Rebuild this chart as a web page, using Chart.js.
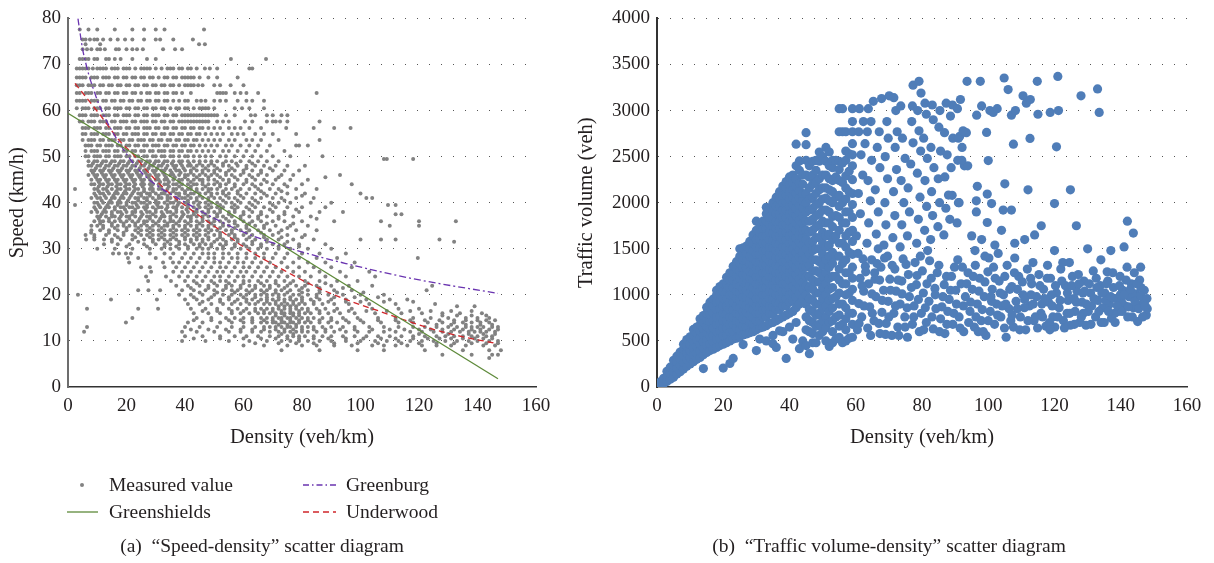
<!DOCTYPE html>
<html>
<head>
<meta charset="utf-8">
<script src="https://cdn.jsdelivr.net/npm/chart.js@4.4.1/dist/chart.umd.min.js"></script>
<style>
  body { margin:0; background:#fff; width:1214px; height:563px; overflow:hidden; position:relative;
         font-family:'Liberation Serif','Times New Roman',serif; color:#231f20; }
  canvas { position:absolute; top:0; }
  #speedChart { left:0; }
  #flowChart { left:570px; }
  .txt { position:absolute; font-size:19.5px; line-height:22px; white-space:nowrap; }
  .cap { transform:translateX(-50%); }
  svg { position:absolute; left:0; top:0; }
</style>
</head>
<body>
<canvas id="speedChart" width="560" height="460"></canvas>
<canvas id="flowChart" width="644" height="460"></canvas>

<svg width="1214" height="563">
  <circle id="kDot" cx="82" cy="485" r="2"></circle>
  <line id="kGs" x1="67" y1="512" x2="98" y2="512" stroke-width="1.3"></line>
  <line id="kGb" x1="303" y1="485" x2="336" y2="485" stroke-width="1.3" stroke-dasharray="6,3,1.5,3"></line>
  <line id="kUw" x1="303" y1="512" x2="336" y2="512" stroke-width="1.3" stroke-dasharray="6,4"></line>
</svg>
<div class="txt" style="left:109px;top:474px">Measured value</div>
<div class="txt" style="left:109px;top:501px">Greenshields</div>
<div class="txt" style="left:346px;top:474px">Greenburg</div>
<div class="txt" style="left:346px;top:501px">Underwood</div>
<div class="txt cap" style="left:262px;top:535px">(a)&nbsp; “Speed-density” scatter diagram</div>
<div class="txt cap" style="left:889px;top:535px">(b)&nbsp; “Traffic volume-density” scatter diagram</div>

<script>
// fitted model curves
const greenshieldsK = [0, 147];
const greenshieldsV = [59.4, 1.8];
const greenburgK = [3.4, 4.2, 5, 6, 7, 8.5, 10, 12, 14.4, 19, 24, 30, 37, 47, 60, 78, 95, 118, 147];
const greenburgV = [80, 76.5, 73.3, 70.5, 68, 65, 62.3, 59.3, 56.3, 51.5, 47.3, 43.9, 41.2, 37.6, 33.6, 29.7, 26.8, 23.5, 20.3];
const underwoodK = [2.4, 10.9, 17.8, 22.3, 27, 35.9, 42, 50.9, 62.2, 72.5, 83.8, 95, 106.7, 118, 129.6, 146.7];
const underwoodV = [65.9, 59.1, 53.3, 50.5, 46.9, 41.4, 38.5, 34.5, 29.5, 25.8, 22, 19, 16.4, 13.9, 11.7, 9.4];

// measured speed-density points: [speed, [densities at that speed]]
const speedRows = [
  [77.6,[4,7,10,16,22,26,30,33,46.5]],
  [75.4,[5,6,7.5,9,10,12,14.5,17,19.5,22,26,30,31.5,36,42.7]],
  [74.4,[6,11,44.8,46.8]],
  [73.3,[5,6.5,8,10,11,12.6,16.4,17.4,20,22,23.6,25.6,32.5,36.6,39]],
  [71.2,[4,5,6,7,9,10,13,14,16,18,22,27,30,55.7,67.7]],
  [69.1,[3,4,5,6,7,8.5,10,11,12,13,15,16,17,19,20,21,23,25,26,27,28,30,32,34,35,36,38,39,41,42,44,46.8,48.5,51,62,63]],
  [67.2,[3,4,5,6,8,9,10,12,13,14,16,17,19,20,22,23,25,26,28,29,31,33,34,36,37,39,40,41,42,43,45,48,51,58]],
  [65.5,[3,4,5,7,8,9,11,12,14,15,17,18,20,21,23,24,26,27,29,30,32,33,35,36,38,40,41,42,43,44.5,46,50,52,55.6,60]],
  [63.8,[3,4,6,7,8,10,11,13,14,16,17,19,20,22,23,25,27,28,30,31,33,34,36,37,39,42,51,52,53,54,57,59,61,65,85]],
  [62.1,[3,4,5,6,8,9,10,12,13,15,16,18,19,21,22,24,25,27,28,30,31,33,34,36,38,40,41,44,45.5,47,50,52,54,58,61,63,67]],
  [60.5,[3,5,6,7,9,10,11,13,14,16,17,18,20,21,23,24,26,27,29,30,32,33,35,37,38,40,41,43,45,46,47,48,50,57,59.5,62,67]],
  [59,[4,5,6,8,9,10,12,13,14,16,17,19,20,21,23,24,26,27,29,30,31,33,34,36,37,39,40,41,42,43,44,45,46,47,48,49,50,51,54,57,62.5,64,68,70,73,75]],
  [57.6,[4,5,7,8,9,11,12,13,15,16,18,19,20,22,23,25,26,27,29,30,32,33,35,36,38,39,40,41,42,43,44,45,46,47,48,51,53,55,60.5,63,68,70,71,72.5,75,86]],
  [56.2,[5,6,7,9,10,11,13,14,16,17,18,20,21,23,24,26,27,28,30,31,33,34,36,37,39,40,42,43,45,46,48,50,52,55,57,59,62,66,74.6,84,91,96.6]],
  [54.9,[5,6,8,9,10,12,13,14,16,17,19,20,22,23,24,26,27,29,30,32,33,35,36,38,39,41,42,44,45,47,49,51,53,56,58,60,64,67,70,78]],
  [53.6,[5,7,8,9,11,12,14,15,16,18,19,21,22,24,25,26,28,29,31,32,34,35,37,38,40,41,43,44,46,48,50,52,55,57,61,63,66,72,86]],
  [52.4,[6,7,8,10,11,13,14,15,17,18,20,21,23,24,26,27,29,30,31,33,34,36,37,39,40,42,43,45,47,49,51,54,56,59,62,65,69,78,79,82]],
  [51.2,[6,8,9,10,12,13,14,16,17,19,20,22,23,25,26,28,29,31,32,33,35,36,38,39,41,42,44,46,48,50,53,55,58,61,64,68,74]],
  [50.1,[6,7,9,10,11,13,14,16,17,18,20,21,23,24,26,27,29,30,32,33,35,36,38,40,41,43,45,47,49,52,54,57,60,63,66,70,76,87]],
  [49.5,[108,109,118]],
  [49,[7,9,10,12,13,15,16,18,19,21,22,24,25,27,28,30,31,33,34,36,38,39,41,43,45,47,49,51,54,56,59,62,65,68,72]],
  [48.5,[8.5,11.5,14.5,17.5,20.5,23.5,26.5,29.5,32.5,35.5,38.5,41.5,45,49,53,57.5,63]],
  [48,[7,8,10,11,13,14,16,17,19,20,22,23,25,26,28,29,31,32,34,36,37,39,41,42,44,46,48,50,53,55,58,61,64,67,71,75,81]],
  [47.5,[9.5,12.5,15.5,18.5,21.5,24.5,27.5,30.5,33.5,36.5,39.5,43,47,51,56,61,69]],
  [47,[8,9,11,12,14,15,17,18,20,21,23,24,26,27,29,30,32,33,35,37,38,40,42,44,46,48,50,52,55,57,60,63,66,70,74,79]],
  [46.5,[8.5,11.5,14.5,17.5,20.5,23.5,26.5,29.5,32.5,35.5,38.5,42,46,50,54,60,66]],
  [46,[7,9,10,12,13,15,16,18,19,21,22,24,25,27,28,30,31,33,35,36,38,40,41,43,45,47,49,51,54,56,59,62,65,68,73,77,93]],
  [45.5,[9.5,12.5,15.5,18.5,21.5,24.5,27.5,30.5,33.5,36.5,40,44,48,52,57,63,72,88]],
  [45,[8,10,11,13,14,16,17,19,20,22,23,25,26,28,30,31,33,34,36,38,39,41,43,45,46,48,50,53,55,58,61,64,67,71,76,82]],
  [44.5,[10.5,13.5,16.5,19.5,22.5,25.5,28.5,31.5,34.5,38,42,46,51,55,61,68]],
  [44,[8,9,11,12,14,15,17,18,20,21,23,25,26,28,29,31,33,34,36,37,39,41,43,44,46,48,50,52,54,57,60,63,66,70,74,80,97]],
  [43.5,[10.5,13.5,16.5,19.5,22.5,25.5,28.5,31.5,34.5,38,42,47,52,57,64,75]],
  [43,[2.4,9,10,12,13,15,17,18,20,21,23,24,26,28,29,31,32,34,36,37,39,41,42,44,46,48,49,51,54,56,59,62,65,69,72,78,85]],
  [42.5,[10.5,13.5,16.5,19.5,22.5,26,29,33,36,40,44,48,53,58,66,73]],
  [42,[9,11,12,14,16,17,19,20,22,24,25,27,28,30,32,33,35,37,38,40,42,43,45,47,49,51,53,55,58,61,64,67,71,75,81,100]],
  [41.5,[9.5,12.5,15.5,18.5,21.5,25,28,31,34,38,41,45,49,54,59,68,80]],
  [41,[8,10,11,13,15,16,18,19,21,23,24,26,27,29,31,32,34,35,37,39,40,42,44,46,48,50,52,55,57,60,63,66,70,73,78,84,102,104]],
  [40.5,[11.5,14.5,17.5,20.5,24,27,30,34,37,41,44,48,53,58,64,74]],
  [40,[9,10,12,14,15,17,18,20,22,23,25,26,28,30,31,33,35,36,38,40,41,43,45,47,49,51,54,56,59,62,65,69,72,76,83,90]],
  [39.5,[2.4,10.5,13.5,17,20,23.5,27,30.5,34,37.5,41,44.5,48,52,57,63,70,109.4,112]],
  [39,[9,11,13,14,16,18,19,21,22,24,26,27,29,31,32,34,36,37,39,41,43,45,47,49,51,53,56,58,61,64,67,71,75,80,88]],
  [38.5,[9.5,12.5,16,19.5,23,26.5,30,33.5,37,40.5,44,48,52,57,62,69,78]],
  [38,[8,10,12,13,15,17,18,20,22,23,25,27,28,30,32,34,35,37,39,41,43,44,46,48,50,52,55,57,60,63,66,70,74,79,86,94]],
  [37.5,[11.5,15,18.5,22,25.5,29,32.5,36,39.5,43,47,51,55,60,66,74,112,114]],
  [37,[10,11,13,15,16,18,20,21,23,25,27,28,30,32,33,35,37,39,41,42,44,46,48,51,53,56,59,62,65,68,72,77,83]],
  [36.5,[10.5,14,17.5,21,24.5,28,31.5,35,38.5,42,46,50,54,59,65,72,85]],
  [36,[9,11,12,14,16,18,20,22,24,26,27,29,31,33,35,36,38,40,42,44,46,48,50,52,55,57,60,63,66,70,74,80,91,107,120,132.6]],
  [35.5,[11,15,19,23,26,30,34,37,41,45,49,53,57,62,68,77]],
  [35,[8,10,12,15,17,19,21,23,25,27,29,31,33,34,36,38,40,42,44,46,48,50,53,55,58,61,64,67,71,76,82,110,120]],
  [34.5,[12,16,20,24,28,32,36,40,44,48,52,57,61,67,75]],
  [34,[8,11,14,17,20,23,25,27,29,31,33,35,37,39,41,43,45,47,49,51,54,56,59,62,65,69,73,78,85]],
  [33.5,[7.9,14,19,24,28,32,36,40,44,48,52,56,61,66,72]],
  [33,[6,9,13,16,19,22,25,27,29,31,33,35,37,39,41,43,45,47,50,52,55,57,60,63,67,70,75,81]],
  [32.5,[9,17,23,28,32,36,40,44,48,52,57,62,67,73,80]],
  [32,[6.2,9,12.3,15,18,22,26,29,31,33,35,37,40,42,44,46,48,51,53,56,58,61,64,68,72,77,84,100,107,112,127]],
  [31.5,[15,24,29,34,38,42,46,50,54,58,63,68,75,132]],
  [31,[12.3,17,21,26,30,33,35,38,40,43,45,47,49,52,54,57,60,63,66,70,74,79,88]],
  [30.5,[20,27,33,37,41,45,49,53,57,61,66,72,79]],
  [30,[10,16,22,28,32,35,38,41,44,46,48,51,53,56,59,62,65,68,72,76,82,90]],
  [29,[15.4,17.4,19.8,21.5,28,33,36,40,43,46,48,50,53,55,58,61,64,67,71,75,80,86,95]],
  [28,[20.5,24,30,35,39,42,45,48,50,53,56,58,61,64,67,70,74,79,85,92,119.6]],
  [27,[20.9,32.5,35.9,38,41,44,47,50,52,55,58,60,63,66,69,73,77,82,88,98]],
  [26,[25,28,33,37,40,43,46,49,52,54,57,60,62,65,68,71,75,79,84,90,97]],
  [25,[28.4,36,39,42,45,48,51,53,56,59,61,64,67,70,73,77,81,86,93,103]],
  [24,[26.7,33.5,38,41,44,47,50,52,55,58,60,63,66,69,72,75,79,83,88,95,105]],
  [23,[27.4,35.2,40,43,46,49,52,54,57,60,62,65,68,71,74,77,81,86,92,99]],
  [22.5,[44,50,55,60,66,71,76,82,88]],
  [22,[37,41,45,48,51,54,56,59,62,64,67,69,72,75,78,81,85,90,96,104,124.5]],
  [21.5,[42,48,54,59,64,69,74,80,86,94]],
  [21,[24,27.5,31.5,39,43,47,50,53,56,58,61,63,66,68,71,73,76,79,82,86,91,97,122.6]],
  [20.5,[45,51,57,62,67,71,75,80,86,92,101]],
  [20,[3.4,38,42,46,50,53,56,59,61,64,66,68,70,72,74,77,79,82,85,89,94,100,108]],
  [19.5,[43,49,55,60,64,68,72,76,80,85,91,98,106]],
  [19,[14.7,30.4,40,44,48,52,55,58,61,63,66,68,70,72,74,76,78,80,83,86,90,95,102,110,116]],
  [18.5,[46,52,57,61,65,68,71,74,77,80,84,89,95,100,108,118]],
  [18,[41,45,49,53,56,59,62,64,67,69,71,73,75,77,79,81,84,87,91,96,103,112,125.5]],
  [17.5,[72,74,76,78,133,139]],
  [17,[6.5,24,30.8,42,47,51,55,58,61,64,66,68,70,72,74,76,78,80,82,85,88,92,97,104,113,120]],
  [16.5,[46,51,56,60,64,67,70,73,76,79,82,86,91,96,102,109,117,124,131,138]],
  [16,[43,48,52,56,59,62,65,67,69,71,73,74,76,77,79,81,83,86,89,93,98,105,114,121,128,134,141.5]],
  [15.5,[71,74,77,79,128,133,138,143]],
  [15,[22,44,49,54,57,60,63,66,68,70,72,73,75,76,78,80,82,84,87,90,94,99,106,112,118,124,130,136,140,144]],
  [14.5,[43,49,55,59,63,67,70,73,76,79,82,86,90,95,100,106,112,117,122,127,132,136,140,143,146]],
  [14,[19.8,41,46,52,56,60,63,66,68,70,71,73,74,76,77,79,81,83,86,89,92,96,101,107,113,118,123,128,132,135,138,141,144]],
  [13.5,[72,75,78,126,131,136,141,145]],
  [13,[6.5,40,45,51,56,60,64,67,69,71,73,75,76,78,80,82,84,87,90,94,98,103,108,113,118,122,126,130,133,136,138,140,142,145,147]],
  [12.5,[42,48,54,59,63,67,71,74,77,80,84,88,93,98,104,110,115,120,124,128,132,135,138,141,144,147]],
  [12,[5.5,39,44,50,55,59,63,66,69,72,74,76,78,80,82,85,88,91,95,99,103,108,112,117,121,125,128,131,134,137,139,141,143,146]],
  [11.5,[73,77,120,130,137,142,146]],
  [11,[40,46,52,57,61,65,69,72,75,77,79,81,84,87,90,94,98,102,106,110,114,118,122,126,129,132,135,138,140,143,145]],
  [10.5,[43,52,60,66,71,75,79,84,89,95,101,107,112,118,123,127,131,135,139,142,145]],
  [10,[39,47,55,62,68,73,76,79,82,86,90,95,100,105,109,113,117,121,125,129,133,137,140,144,147]],
  [9.5,[64,72,78,84,91,99,106,114,120,126,132,138,143,147]],
  [9,[60,67,75,80,85,91,97,104,108,112,116,121,126,131,136,142,146]],
  [8,[73,86,99,108,122,135,144,148]],
  [7,[128,138,145,147]],
  [6.3,[144]]
];

// measured volume-density points below 60 veh/km: [density, [volumes at that density]]
const flowColumns = [
  [1,[15,55]],[2,[35,95]],[3,[60,120,170]],[4,[85,150,215]],[5,[105,170,235,290]],
  [6,[140,205,270,335]],[7,[165,235,305,380]],[8,[195,265,340,410,465]],
  [9,[225,300,370,445,515]],[10,[250,320,395,465,545]],[11,[275,350,420,495,565,625]],
  [12,[300,370,445,515,585,650]],[13,[320,395,465,535,605,675,740]],
  [14,[200,350,420,495,565,635,705,775]],[15,[375,450,520,590,660,730,800,865]],
  [16,[395,470,550,630,710,790,865,920]],[17,[410,485,560,640,720,800,880,955]],
  [18,[430,520,600,680,760,840,920,1000,1050]],[19,[450,530,610,690,770,850,930,1010,1090]],
  [20,[205,465,555,640,720,800,880,960,1040,1120]],[21,[480,560,640,720,800,880,960,1040,1120,1190]],
  [22,[255,500,600,680,760,840,920,1000,1080,1160,1240]],
  [23,[310,520,600,680,760,840,920,1000,1080,1160,1240,1310]],
  [24,[530,640,720,800,880,960,1040,1120,1200,1280,1360]],
  [25,[545,620,700,780,860,940,1020,1100,1180,1260,1340,1420,1500]],
  [26,[460,565,660,740,820,900,980,1060,1140,1220,1300,1380,1460,1510]],
  [27,[575,650,730,810,890,970,1050,1130,1210,1290,1370,1450,1530]],
  [28,[590,700,780,860,940,1020,1100,1180,1260,1340,1420,1500,1580]],
  [29,[600,680,760,840,920,1000,1080,1160,1240,1320,1400,1480,1560,1650]],
  [30,[395,620,720,800,880,960,1040,1120,1200,1280,1360,1440,1520,1600,1700,1800]],
  [31,[520,640,720,800,880,960,1040,1120,1200,1280,1360,1440,1520,1600,1680,1770]],
  [32,[650,760,840,920,1000,1080,1160,1240,1320,1400,1480,1560,1640,1720,1800]],
  [33,[500,665,760,840,920,1000,1080,1160,1240,1320,1400,1480,1560,1640,1720,1800,1880,1950]],
  [34,[690,800,880,960,1040,1120,1200,1280,1360,1440,1520,1600,1680,1760,1840,1940]],
  [35,[470,560,700,790,870,950,1030,1110,1190,1270,1350,1430,1510,1590,1670,1750,1830,1910,2000]],
  [36,[430,720,840,920,1000,1080,1160,1240,1320,1400,1480,1560,1640,1720,1800,1880,1960,2060]],
  [37,[610,740,840,920,1000,1080,1160,1240,1320,1400,1480,1560,1640,1720,1800,1880,1960,2040,2120]],
  [38,[600,760,880,960,1040,1120,1200,1280,1360,1440,1520,1600,1680,1760,1840,1920,2000,2080,2180]],
  [39,[310,780,880,960,1040,1120,1200,1280,1360,1440,1520,1600,1680,1760,1840,1920,2000,2080,2160,2230]],
  [40,[650,800,920,1000,1080,1160,1240,1320,1400,1480,1560,1640,1720,1800,1880,1960,2040,2120,2200,2280]],
  [41,[520,820,940,1020,1100,1180,1260,1340,1420,1500,1580,1660,1740,1820,1900,1980,2060,2140,2220,2300]],
  [42,[700,860,980,1060,1140,1220,1300,1380,1460,1540,1620,1700,1780,1860,1940,2020,2100,2180,2260,2400,2635]],
  [43,[416,900,1010,1090,1170,1250,1330,1410,1490,1570,1650,1730,1810,1890,1970,2050,2130,2210,2350,2453]],
  [44,[500,960,1060,1140,1220,1300,1380,1460,1540,1620,1700,1780,1860,1940,2020,2100,2200,2300]],
  [45,[450,620,760,900,1000,1100,1200,1300,1400,1500,1600,1700,1800,1900,2000,2100,2300,2460,2630,2760]],
  [46,[362,600,720,840,960,1080,1200,1320,1440,1560,1680,1800,1920,2040,2160,2280,2400]],
  [47,[480,580,700,820,940,1060,1160,1260,1380,1480,1580,1700,1820,1940,2060,2200,2300,2450]],
  [48,[480,660,780,900,1020,1140,1260,1380,1500,1620,1740,1860,1980,2100,2220,2350,2460]],
  [49,[560,680,800,900,1020,1140,1240,1360,1500,1620,1760,1880,2000,2140,2260,2450,2550]],
  [50,[600,720,850,960,1080,1200,1320,1440,1560,1680,1800,1920,2040,2160,2300,2500]],
  [51,[500,640,760,880,1000,1120,1240,1380,1520,1640,1780,1920,2050,2160,2300,2450,2600]],
  [52,[440,700,820,940,1060,1180,1300,1420,1540,1660,1780,1900,2020,2140,2260,2400,2550]],
  [53,[480,600,720,860,960,1080,1200,1340,1460,1600,1740,1850,2000,2120,2240,2380,2460]],
  [54,[520,760,980,1200,1420,1640,1860,2060,2280,2460]],
  [55,[540,660,780,900,1020,1160,1280,1420,1560,1700,1840,1960,2080,2240,2360,2450,2770,3020]],
  [56,[480,680,900,1120,1340,1560,1780,2000,2220,2430,2770,3020]],
  [57,[500,620,740,860,1000,1120,1240,1380,1520,1640,1780,1900,2040,2160,2290,2460,2560,2770]],
  [58,[530,800,1020,1240,1460,1680,1900,2120,2340,2530]],
  [59,[540,680,800,940,1060,1180,1300,1440,1580,1700,1840,1980,2100,2250,2400,2520,2640,2770,2880,3020]]
];

// measured volume-density points from 60 veh/km upwards: [density, volume]
const flowPoints = [
  [60.5,620],[61.8,760],[60.9,905],[62.4,1040],[61.3,1180],[62.9,1310],[60.7,1450],[63.6,640],[64.2,870],[63.9,1120],
  [64.8,1380],[65.5,720],[66.1,980],[65.7,1240],[66.8,1500],[67.3,580],[67.9,810],[68.4,1050],[67.6,1300],[69.2,690],
  [69.8,930],[70.3,1170],[69.6,1420],[70.9,560],[71.5,800],[72.2,1040],[71.8,1280],[72.7,650],[73.4,900],[73.9,1150],
  [74.3,1390],[74.8,760],[75.6,540],[76.2,980],[75.9,1220],[77.1,680],[77.6,880],[78.3,1110],[77.9,1350],[79.2,600],
  [79.8,800],[80.4,1020],[80.1,1260],[81.3,700],[82.1,930],[81.7,1480],[82.8,1180],[83.4,630],[84.2,850],[83.9,1070],
  [85.1,1320],[85.6,740],[86.3,980],[86.9,580],[87.4,1200],[87.8,820],[88.6,1050],[89.3,680],[89.8,1300],[90.4,900],
  [91.2,760],[91.8,1120],[92.6,600],[93.1,980],[93.9,1240],[94.5,820],[95.2,1060],[95.8,650],[96.7,900],[97.4,1180],
  [97.9,720],[98.8,980],[99.3,560],[99.9,1250],[100.6,820],[101.2,1060],[101.9,680],[102.5,900],[103.3,1150],[103.8,760],
  [104.6,1000],[105.4,540],[105.7,1320],[106.3,850],[107.1,1090],[107.6,650],[108.4,930],[109.2,1200],[109.7,760],[110.5,1000],
  [111.3,620],[111.8,1280],[112.4,880],[113.1,1120],[113.8,720],[114.6,980],[115.3,1220],[115.9,800],[116.7,1060],[117.4,660],
  [118.2,920],[118.8,1180],[119.5,760],[120.1,650],[120.6,1020],[121.4,860],[121.9,1280],[122.7,720],[123.3,1100],[124.1,940],
  [124.8,670],[125.4,1200],[126.2,820],[126.8,1040],[127.6,700],[128.3,920],[128.9,1150],[129.5,670],[130.2,820],[130.9,1020],
  [131.7,1260],[132.4,760],[133.1,940],[133.8,1100],[134.5,860],[135.2,1020],[135.9,1250],[136.6,900],[137.2,745],[137.8,1080],
  [138.5,960],[139.3,820],[139.8,1200],[140.6,1050],[141.3,880],[141.9,1300],[142.5,980],[143.2,1120],[143.8,860],[144.6,1010],
  [145.1,710],[145.7,1160],[146.4,900],[147.1,1050],[147.7,780],[148,850],
  [90.8,1380],[92.2,1300],[94.1,700],[96.1,1320],[98.2,840],[100.2,1400],[102.1,1180],[104.2,880],[106.8,720],[108.8,1060],
  [110.9,860],[112.9,1000],[114.2,760],[116.2,900],[117.9,1320],[119.1,1000],[122.2,1150],[123.8,800],[125.9,960],[127.2,1220],
  [129.1,1040],[131.2,880],[132.8,1080],[134.1,700],[136.1,1150],[138.2,800],[140.2,930],[142.1,760],[144.1,1240],[146.1,1080],
  [147.3,940],[97,600],[101,930],[105,1200],[113.5,1350],[118.5,700],[124.5,1350],[128.7,800],[135.5,940],[139.9,1000],[143.6,1000],
  [61,690],[62.5,880],[61.9,1100],[63,1250],[62.2,1390],[64.5,560],[65,800],[64.9,1010],[65.8,1170],[66.4,1340],
  [67,690],[68,940],[67.2,1160],[68.7,1400],[69,570],[70,760],[70.5,1050],[71,1320],[72,880],[73,560],
  [72.8,1160],[74,1010],[74.9,650],[75.5,860],[75.2,1330],[76.8,1080],[77.5,760],[78.9,950],[78.5,1210],[79.5,1420],
  [80.5,620],[81,860],[81.5,1120],[82.3,1370],[83,760],[84,1000],[84.6,1240],[85.3,600],[86,870],[86.7,1110],
  [87.5,680],[88.2,950],[88.9,1200],[89.6,800],[90.2,1050],
  [91.5,640],[92.5,880],[93.5,1120],[94.7,920],[95.5,1200],[96.3,760],[97.2,1040],[98.5,600],[99,1140],[100,720],
  [100.8,980],[101.6,1300],[102.8,780],[103.6,1020],[104.9,640],[105.3,900],[106.5,1060],[107.2,780],[107.9,1240],[108.8,850],
  [109.5,620],[110.3,1140],[111,950],[112,720],[112.8,1180],[113.6,900],[114.9,640],[115.6,1100],[116.4,760],[117,960],
  [117.8,1180],[118.6,620],[119.3,880],[120.3,1100],[121,760],[121.7,940],[122.5,1350],[123,640],[123.9,1020],[124.6,800],
  [125.2,1100],[126,680],[126.6,920],[127.4,1120],[128.1,760],[128.6,1020],[129.6,900],[130.5,1120],[131,680],[131.9,960],
  [132.6,1180],[133.4,820],[134.3,1020],[135,700],[135.7,1120],[136.3,820],[137,980],[137.6,1240],[138.3,700],[139,880],
  [139.6,1100],[140.4,820],[141,1000],[141.6,1160],[142.3,870],[142.9,1060],[143.5,760],[144.3,930],[144.8,1120],[145.4,850],
  [146,990],[146.6,760],[147.4,880],[147.9,960],
  [116,1750],[126.6,1750],[142,1800],[143.8,1670],[111,1600],[114,1650],[103,1450],[120,1480],[130,1500],[137,1480],
  [141,1520],[108,1400],[96,1480],[99,1420],[134,1380],[146,1300],
  [60.2,1640],[61.4,1880],[60.8,2100],[62.1,2300],[61.6,2520],[62.8,2640],[60.9,2770],[62.3,2880],[61.1,3020],[63.4,1560],
  [63.9,1780],[64.4,2020],[63.7,2240],[64.8,2460],[63.5,2770],[64.6,2880],[63.8,3020],[65.3,3100],[66.2,1660],[66.8,1900],
  [65.9,2140],[67.3,2380],[66.5,2600],[67.1,2770],[67.8,3130],[68.5,1540],[69.1,1760],[68.8,2000],[69.6,2260],[68.9,2500],
  [69.8,2700],[69.4,2880],[70.1,3160],[71.2,1620],[71.8,1860],[71.4,2120],[72.3,2360],[71.9,2600],[72.5,2770],[72.1,3000],
  [71.5,3140],[73.4,1520],[73.9,1760],[74.5,2000],[73.7,2240],[74.9,2480],[74.1,2700],[73.6,3050],[75.6,1640],[76.2,1900],
  [75.8,2160],[76.6,2420],[77.3,2650],[76.9,2880],[77.1,3050],[77.3,3275],[78.4,1560],[78.9,1820],[79.4,2060],[78.6,2320],
  [79.6,2560],[79.1,2780],[78.7,3000],[79.7,3190],[79.1,3317],[80.8,1700],[81.4,1960],[80.9,2240],[81.6,2480],[80.5,2700],
  [81.3,2960],[80.9,3080],[82.6,1600],[83.2,1860],[82.9,2120],[83.6,2380],[82.7,2600],[83.4,2900],[83.1,3060],[84.8,1740],
  [85.3,2000],[84.9,2260],[85.6,2560],[85.1,2820],[85.4,3000],[86.6,1650],[87.2,1940],[86.9,2280],[87.6,2520],[86.8,2760],
  [87.3,3080],[88.4,1820],[89.1,2080],[88.8,2380],[89.3,2700],[88.6,2940],[89.2,3060],[90.6,1780],[91.2,2000],[90.8,2460],
  [91.4,2720],[90.7,3020],[92.1,2600],[93.4,2760],[92.8,2400],[93.6,3317],[91.6,3120],
  [97.6,3317],[104.8,3353],[106,3228],[114.8,3317],[121,3370],[128,3160],[133,3235],[133.5,2980],
  [96.5,2950],[98,3050],[100.5,3000],[101.5,2980],[102.7,3020],[107,2950],[108.2,3000],[110.5,3160],[111.5,3080],[112.7,3120],
  [115,2960],[118.7,2980],[121.2,3000],[91,2700],[92.4,2780],[99.5,2763],[107.6,2635],[112.6,2698],[120.6,2606],[100,2457],
  [93.8,2400],[92,2460],[96.7,2178],[99.7,2094],[105,2205],[112,2140],[124.8,2140],[120,1990],[96.4,1900],[96.4,2020],
  [99.7,1785],[101,1990],[104.5,1920],[107,1920],[91,2000],[88,2083],[95,1640],[98,1600],[104,1700],[108,1560],[102,1540]
];

const xTicks = [0, 20, 40, 60, 80, 100, 120, 140, 160];

const GREY = '#828282', BLUE = '#4f7db8', GREEN = '#5e8a3a', PURPLE = '#6a34b0', RED = '#d0262a';
const INK = '#231f20';
const serif = "'Liberation Serif', 'Times New Roman', serif";

document.getElementById('kDot').setAttribute('fill', GREY);
document.getElementById('kGs').setAttribute('stroke', GREEN);
document.getElementById('kGb').setAttribute('stroke', PURPLE);
document.getElementById('kUw').setAttribute('stroke', RED);

function pairs(xs, ys) {
  return xs.map((x, i) => ({ x: x, y: ys[i] }));
}

const measuredSpeed = [];
speedRows.forEach(r => r[1].forEach(k => measuredSpeed.push({ x: k, y: r[0] })));
const measuredFlow = [];
flowColumns.forEach(c => c[1].forEach(q => measuredFlow.push({ x: c[0], y: q })));
flowPoints.forEach(p => measuredFlow.push({ x: p[0], y: p[1] }));

Chart.defaults.font.family = serif;
Chart.defaults.font.size = 19;
Chart.defaults.color = INK;

function scales(yMax, yStep, yWidth, yTitle, yTitlePad, yAxisColor) {
  return {
    x: {
      type: 'linear', min: 0, max: 160,
      afterFit: s => { s.height = 73; },
      afterBuildTicks: s => { s.ticks = xTicks.map(v => ({ value: v })); },
      ticks: { padding: 8, maxRotation: 0, callback: v => String(v) },
      grid: { display: false, drawTicks: false },
      border: { display: true, color: '#333', width: 1.5 },
      title: { display: true, text: 'Density (veh/km)', font: { size: 20.5, lineHeight: 1.2 }, padding: { top: 0, bottom: 10.5 } }
    },
    y: {
      type: 'linear', min: 0, max: yMax,
      afterFit: s => { s.width = yWidth; },
      ticks: { stepSize: yStep, padding: 7, callback: v => String(v) },
      grid: { drawTicks: false, lineWidth: 1,
              color: c => (c.tick && c.tick.value === 0) ? 'rgba(0,0,0,0)' : '#555' },
      border: { display: true, color: yAxisColor, width: 2, dash: [1, 11] },
      title: { display: true, text: yTitle, font: { size: 20.5, lineHeight: 1.2 }, padding: { top: yTitlePad, bottom: 0 } }
    }
  };
}

const common = {
  responsive: false,
  devicePixelRatio: 1,
  animation: false,
  events: [],
  plugins: { legend: { display: false }, tooltip: { enabled: false } }
};

new Chart(document.getElementById('speedChart'), {
  type: 'scatter',
  data: {
    datasets: [
      { label: 'Greenshields', data: pairs(greenshieldsK, greenshieldsV), showLine: true,
        borderColor: GREEN, borderWidth: 1.3, pointRadius: 0, order: 1 },
      { label: 'Greenburg', data: pairs(greenburgK, greenburgV), showLine: true, cubicInterpolationMode: 'monotone',
        borderColor: PURPLE, borderWidth: 1.3, borderDash: [7, 3, 2, 3], pointRadius: 0, order: 1 },
      { label: 'Underwood', data: pairs(underwoodK, underwoodV), showLine: true, cubicInterpolationMode: 'monotone',
        borderColor: RED, borderWidth: 1.3, borderDash: [6, 4], pointRadius: 0, order: 1 },
      { label: 'Measured value', data: measuredSpeed, pointRadius: 2, borderWidth: 0,
        backgroundColor: GREY, order: 10 }
    ]
  },
  options: Object.assign({}, common, {
    layout: { padding: { top: 12, right: 24, bottom: 0, left: 0 } },
    scales: scales(80, 10, 68, 'Speed (km/h)', 5.7, '#6d6d6d')
  })
});

new Chart(document.getElementById('flowChart'), {
  type: 'scatter',
  data: {
    datasets: [
      { label: 'Measured value', data: measuredFlow, pointRadius: 4.6, borderWidth: 0,
        backgroundColor: BLUE }
    ]
  },
  options: Object.assign({}, common, {
    layout: { padding: { top: 12, right: 27, bottom: 0, left: 0 } },
    scales: scales(4000, 500, 87, 'Traffic volume (veh)', 4.7, '#333')
  })
});
</script>
</body>
</html>
